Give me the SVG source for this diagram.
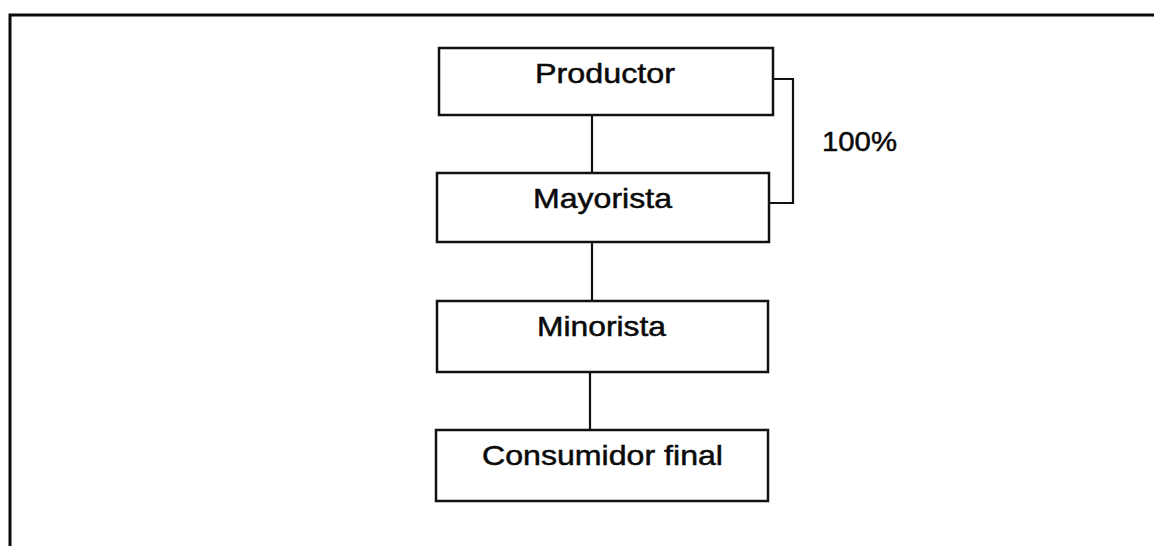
<svg xmlns="http://www.w3.org/2000/svg" width="1154" height="546" viewBox="0 0 1154 546">
  <style>
    .box { fill: #ffffff; stroke: #111111; stroke-width: 2.5; }
    .conn { fill: none; stroke: #111111; stroke-width: 2.2; }
    .frame { fill: none; stroke: #0a0a0a; stroke-width: 3; }
    .label { font-family: "Liberation Sans", Arial, sans-serif; font-size: 28px; fill: #0a0a0a; stroke: #0a0a0a; stroke-width: 0.5; }
  </style>
  <rect x="0" y="0" width="1154" height="546" fill="#ffffff"/>
  <path class="frame" d="M10,560 L10,15 L1170,15"/>
  <g id="connectors">
    <line class="conn" x1="592" y1="115" x2="592" y2="173"/>
    <line class="conn" x1="592" y1="242" x2="592" y2="301"/>
    <line class="conn" x1="590" y1="372" x2="590" y2="430"/>
    <path class="conn" d="M773,79 L793,79 L793,203 L769,203"/>
  </g>
  <g id="productor">
    <rect class="box" x="439" y="48" width="334" height="67"/>
    <text class="label" x="535" y="83" textLength="140" lengthAdjust="spacingAndGlyphs">Productor</text>
  </g>
  <g id="mayorista">
    <rect class="box" x="437" y="173" width="332" height="69"/>
    <text class="label" x="533" y="208" textLength="139" lengthAdjust="spacingAndGlyphs">Mayorista</text>
  </g>
  <g id="minorista">
    <rect class="box" x="437" y="301" width="331" height="71"/>
    <text class="label" x="537" y="336" textLength="129" lengthAdjust="spacingAndGlyphs">Minorista</text>
  </g>
  <g id="consumidor">
    <rect class="box" x="436" y="430" width="332" height="71"/>
    <text class="label" x="482" y="465" textLength="241" lengthAdjust="spacingAndGlyphs">Consumidor final</text>
  </g>
  <g id="pct">
    <text class="label" x="822" y="151" textLength="75" lengthAdjust="spacingAndGlyphs">100%</text>
  </g>
</svg>
